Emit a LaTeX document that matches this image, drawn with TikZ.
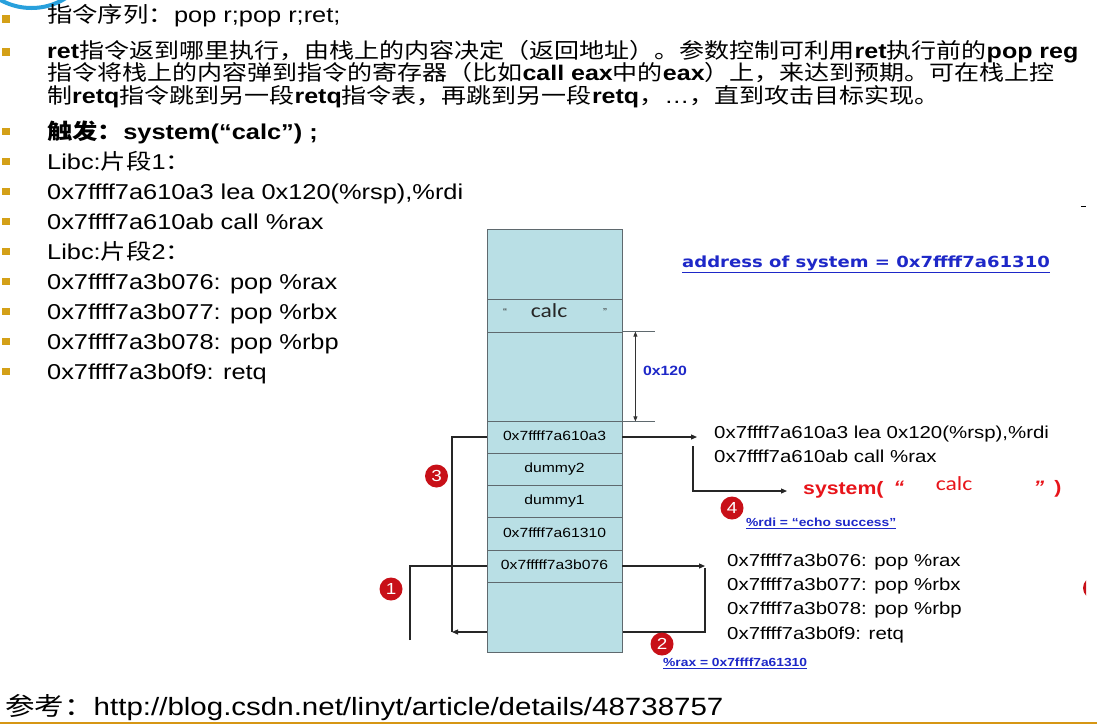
\documentclass[tikz,border=0pt]{standalone}
\usepackage{fontspec}
\setmainfont{Liberation Sans}[FakeStretch=1.18]
\newfontfamily\cjkfont{Noto Sans CJK SC}[FakeStretch=1.18]
\newfontfamily\widefont{DejaVu Sans}[FakeStretch=1.18]
\newfontfamily\calibrifont{Carlito}[FakeStretch=1.18]
\usetikzlibrary{arrows.meta,calc}

\definecolor{bulletgold}{RGB}{212,160,23}
\definecolor{rulegold}{RGB}{214,150,20}
\definecolor{stackfill}{RGB}{185,223,229}
\definecolor{stackline}{RGB}{95,105,110}
\definecolor{linkblue}{RGB}{30,40,200}
\definecolor{alertred}{RGB}{232,20,26}
\definecolor{badgered}{RGB}{200,16,24}
\definecolor{logoblue}{RGB}{40,160,220}

\newcommand{\fsz}[1]{\fontsize{#1}{#1}\selectfont}

\tikzset{
  textline/.style={anchor=base west, inner sep=0pt, font=\fsz{21.5}},
  paraline/.style={anchor=base west, inner sep=0pt, font=\fsz{21.2}},
  bulletbox/.style={fill=bulletgold, minimum size=7.5pt, inner sep=0pt},
  cell/.style={draw=stackline, fill=stackfill, line width=0.8pt,
    minimum width=135pt, inner sep=0pt, font=\fsz{13.3},
    text height=9.5pt, text depth=2.5pt},
  wire/.style={line width=1.2pt, draw=black!85},
  arr/.style={wire, -{Triangle[length=6pt,width=5pt]}},
  badge/.style={circle, fill=badgered, text=white, inner sep=0pt,
    minimum size=23pt, font=\fsz{16}},
  gadget/.style={anchor=base west, inner sep=0pt, font=\fsz{17.3}},
  note/.style={anchor=west, inner sep=0pt, text=linkblue, font=\bfseries\fsz{11.7}},
}

\begin{document}
\begin{tikzpicture}[x=1pt,y=-1pt]
\useasboundingbox (0,0) rectangle (1097,726);
\fill[white] (0,0) rectangle (1097,726);

% logo arc in the top left corner and edge marks
\begin{scope}
  \clip (0,0) rectangle (1086,726);
  \draw[logoblue, line width=4pt] (31.5,-56) circle[radius=64];
  \fill[badgered] (1094,588) circle[radius=11];
\end{scope}
\draw[black, line width=1pt] (1081,206) -- (1086,206);

% ---------- bullet text ----------
\node[bulletbox] (b1) at (6,19) {};
\node[textline] (t1) at (47,22) {{\cjkfont 指令序列：}pop r;pop r;ret;};

\node[bulletbox] (b2) at (6,52) {};
\node[paraline] (t2a) at (47,58) {\textbf{ret}{\cjkfont 指令返到哪里执行，由栈上的内容决定（返回地址）。参数控制可利用}\textbf{ret}{\cjkfont 执行前的}\textbf{pop reg}};
\node[paraline] (t2b) at (47,80.7) {{\cjkfont 指令将栈上的内容弹到指令的寄存器（比如}\textbf{call eax}{\cjkfont 中的}\textbf{eax}{\cjkfont ）上，来达到预期。可在栈上控}};
\node[paraline] (t2c) at (47,103) {{\cjkfont 制}\textbf{retq}{\cjkfont 指令跳到另一段}\textbf{retq}{\cjkfont 指令表，再跳到另一段}\textbf{retq}{\cjkfont ，}…{\cjkfont ，直到攻击目标实现。}};

\node[bulletbox] (b3) at (6,131.6) {};
\node[textline] (t3) at (47,139.5) {\bfseries{\cjkfont 触发：}system(“calc”) ;};
\node[bulletbox] (b4) at (6,161.6) {};
\node[textline] (t4) at (47,169.5) {Libc:{\cjkfont 片段}1{\cjkfont ：}};
\node[bulletbox] (b5) at (6,191.6) {};
\node[textline] (t5) at (47,199.5) {0x7ffff7a610a3 lea 0x120(\%rsp),\%rdi};
\node[bulletbox] (b6) at (6,221.6) {};
\node[textline] (t6) at (47,229.5) {0x7ffff7a610ab call \%rax};
\node[bulletbox] (b7) at (6,251.6) {};
\node[textline] (t7) at (47,259.5) {Libc:{\cjkfont 片段}2{\cjkfont ：}};
\node[bulletbox] (b8) at (6,281.6) {};
\node[textline] (t8) at (47,289.5) {0x7ffff7a3b076: pop \%rax};
\node[bulletbox] (b9) at (6,311.6) {};
\node[textline] (t9) at (47,319.5) {0x7ffff7a3b077: pop \%rbx};
\node[bulletbox] (b10) at (6,341.6) {};
\node[textline] (t10) at (47,349.5) {0x7ffff7a3b078: pop \%rbp};
\node[bulletbox] (b11) at (6,371.6) {};
\node[textline] (t11) at (47,379.5) {0x7ffff7a3b0f9: retq};

% ---------- connectors behind the stack ----------
\coordinate (retq) at (705,568);
\coordinate (corner) at (452,632);
\draw[arr] (retq) |- (corner);

% ---------- stack ----------
\node[cell, minimum height=70pt] (top) at (554.5,264) {};
\node[cell, minimum height=33pt] (calc) at (554.5,315.5) {};
\node[cell, minimum height=89pt] (gap) at (554.5,376.5) {};
\node[cell, minimum height=32pt] (ra) at (554.5,437) {0x7ffff7a610a3};
\node[cell, minimum height=32pt] (dtwo) at (554.5,469) {dummy2};
\node[cell, minimum height=32pt] (done) at (554.5,501) {dummy1};
\node[cell, minimum height=33pt] (sys) at (554.5,533.5) {0x7ffff7a61310};
\node[cell, minimum height=32pt] (rb) at (554.5,566) {0x7fffff7a3b076};
\node[cell, minimum height=70pt] (bot) at (554.5,617) {};

\node[inner sep=0pt, font=\fsz{10}, text=black!80] (qa) at (505,312) {“};
\node[inner sep=0pt, font=\calibrifont\fsz{20}, text=black!85] (calctxt) at (549,311) {calc};
\node[inner sep=0pt, font=\fsz{10}, text=black!80] (qb) at (605,312) {”};

% 0x120 offset marker
\draw[stackline, line width=0.8pt] (gap.north east) -- ++(33,0);
\draw[stackline, line width=0.8pt] (gap.south east) -- ++(33,0);
\draw[line width=0.8pt, black!80, {Triangle[length=5pt,width=4pt]}-{Triangle[length=5pt,width=4pt]}]
  ($(gap.north east)+(13,0)$) -- ($(gap.south east)+(13,0)$);
\node[inner sep=0pt, text=linkblue, font=\bfseries\fsz{13.4}] (off) at (665,371) {0x120};

\node[anchor=west, inner sep=0pt, text=linkblue, font=\widefont\bfseries\fsz{15.3}] (addr) at (682,264) {\underline{address of system = 0x7ffff7a61310}};

% ---------- gadget 1 ----------
\node[gadget] (ga1) at (714,438.5) {0x7ffff7a610a3 lea 0x120(\%rsp),\%rdi};
\node[gadget] (ga2) at (714,462) {0x7ffff7a610ab call \%rax};
\coordinate (tipA) at (697,437);
\draw[arr] (ra.east) -- (tipA);
\coordinate (callA) at (693,446);
\coordinate (tipS) at (787,491);
\draw[arr] (callA) |- (tipS);

\node[anchor=base west, inner sep=0pt, text=alertred, font=\bfseries\fsz{18}] (sysc) at (803,494.5) {system(};
\node[inner sep=0pt, text=alertred, font=\bfseries\itshape\fsz{18}] (qc) at (899,487) {“};
\node[inner sep=0pt, text=alertred, font=\calibrifont\fsz{20}] (calcred) at (954,484) {calc};
\node[inner sep=0pt, text=alertred, font=\bfseries\itshape\fsz{18}] (qd) at (1039,487) {”};
\node[inner sep=0pt, text=alertred, font=\bfseries\fsz{18}] (rpar) at (1058,489) {)};

\node[badge] (n4) at (732,508) {4};
\node[note] (rdi) at (746,523) {\underline{\%rdi = “echo success”}};

% ---------- gadget 2 ----------
\node[gadget] (gb1) at (727,566) {0x7ffff7a3b076: pop \%rax};
\node[gadget] (gb2) at (727,590) {0x7ffff7a3b077: pop \%rbx};
\node[gadget] (gb3) at (727,614) {0x7ffff7a3b078: pop \%rbp};
\node[gadget] (gb4) at (727,639) {0x7ffff7a3b0f9: retq};
\coordinate (tipB) at (705,566);
\draw[arr] (rb.east) -- (tipB);

\node[badge] (n2) at (662,644) {2};
\node[note] (rax) at (663,663) {\underline{\%rax = 0x7ffff7a61310}};

% ---------- chain entry and loop back ----------
\coordinate (start) at (410,640);
\draw[wire] (start) |- (rb.west);
\draw[wire] (corner) |- (ra.west);
\node[badge] (n1) at (391,589) {1};
\node[badge] (n3) at (436.5,476) {3};

% ---------- reference ----------
\node[anchor=base west, inner sep=0pt, font=\fsz{25}] (ref) at (5,715) {{\cjkfont 参考：}http://blog.csdn.net/linyt/article/details/48738757};
\draw[rulegold, line width=2pt] (0,723) -- (1097,723);
\end{tikzpicture}
\end{document}
